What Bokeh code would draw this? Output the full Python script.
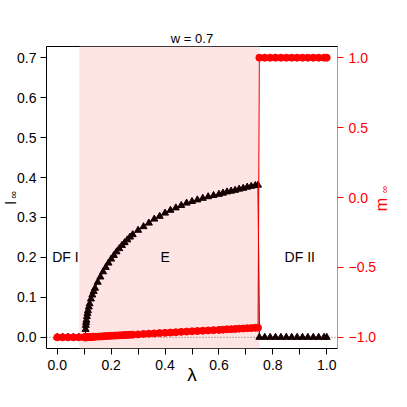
import math
from bokeh.plotting import figure
from bokeh.models import (Range1d, LinearAxis, FixedTicker, CustomJSTickFormatter,
                          BoxAnnotation, Span, Label, Title)
from bokeh.embed import file_html
from bokeh.resources import INLINE

# ---------------- data ----------------
lam = [0.000, 0.020, 0.040, 0.060, 0.080, 0.100,
       0.104, 0.105, 0.106, 0.107, 0.108, 0.110, 0.112, 0.114, 0.117, 0.120,
       0.125, 0.130, 0.135, 0.140, 0.150, 0.160, 0.170, 0.180, 0.190, 0.200,
       0.210, 0.220, 0.230, 0.240, 0.250, 0.260, 0.270, 0.280, 0.300, 0.320,
       0.340, 0.360, 0.380, 0.400, 0.420, 0.440, 0.460, 0.480, 0.500, 0.520,
       0.540, 0.560, 0.580, 0.600, 0.615, 0.630, 0.645, 0.660, 0.675, 0.690,
       0.705, 0.720, 0.735, 0.745,
       0.750, 0.770, 0.790, 0.810, 0.830, 0.850, 0.870, 0.890, 0.910, 0.930,
       0.950, 0.970, 0.990, 1.000]

l_inf = [0.0, 0.0, 0.0, 0.0, 0.0, 0.0,
         0.000, 0.020, 0.030, 0.037, 0.043, 0.052, 0.060, 0.067, 0.076, 0.084,
         0.096, 0.106, 0.115, 0.123, 0.138, 0.151, 0.164, 0.175, 0.186, 0.196,
         0.205, 0.214, 0.222, 0.230, 0.237, 0.244, 0.251, 0.257, 0.268, 0.277,
         0.286, 0.296, 0.303, 0.311, 0.318, 0.324, 0.330, 0.336, 0.340, 0.344,
         0.348, 0.352, 0.355, 0.358, 0.361, 0.364, 0.366, 0.368, 0.371, 0.373,
         0.376, 0.378, 0.380, 0.381,
         0.0, 0.0, 0.0, 0.0, 0.0, 0.0, 0.0, 0.0, 0.0, 0.0,
         0.0, 0.0, 0.0, 0.0]

m_inf = [-1.0, -1.0, -1.0, -1.0, -1.0, -1.0,
         -1.000, -0.999, -0.999, -0.999, -0.999, -0.999, -0.999, -0.998, -0.998, -0.998,
         -0.997, -0.997, -0.996, -0.996, -0.995, -0.994, -0.993, -0.991, -0.990, -0.989,
         -0.988, -0.987, -0.986, -0.985, -0.984, -0.983, -0.982, -0.981, -0.979, -0.976,
         -0.974, -0.972, -0.970, -0.968, -0.966, -0.964, -0.961, -0.959, -0.957, -0.955,
         -0.953, -0.951, -0.949, -0.947, -0.945, -0.943, -0.942, -0.940, -0.938, -0.937,
         -0.935, -0.934, -0.932, -0.931,
         1.0, 1.0, 1.0, 1.0, 1.0, 1.0, 1.0, 1.0, 1.0, 1.0,
         1.0, 1.0, 1.0, 1.0]

region_bounds = [0.082, 0.751]          # shaded "E" region in lambda
region_names = ["DF I", "E", "DF II"]
region_x = [0.03, 0.40, 0.90]
region_y = [0.20, 0.20, 0.20]

x_ticks = [0.0, 0.2, 0.4, 0.6, 0.8, 1.0]
x_minor = [0.1, 0.3, 0.5, 0.7, 0.9]
l_ticks = [0.0, 0.1, 0.2, 0.3, 0.4, 0.5, 0.6, 0.7]
m_ticks = [-1.0, -0.5, 0.0, 0.5, 1.0]

# ---------------- layout ----------------
FONT = "Liberation Sans"
W = H = 391
RED = "#ff0000"
X0, X1, Y0, Y1 = -0.04, 1.04, -0.028, 0.728
FL, FR, FT, FB = 46, 337, 46, 348      # frame edges (px)


def px_to_x(px):
    return X0 + (px - FL) / (FR - FL) * (X1 - X0)


def px_to_y(py):
    return Y1 - (py - FT) / (FB - FT) * (Y1 - Y0)


p = figure(width=W, height=H, output_backend="svg", toolbar_location=None,
           x_range=Range1d(X0, X1), y_range=Range1d(Y0, Y1),
           min_border_left=FL, min_border_right=W - FR,
           min_border_top=FT, min_border_bottom=H - FB)
p.extra_y_ranges = {"m": Range1d(-1.08, 1.08)}
p.xgrid.visible = False
p.ygrid.visible = False
p.outline_line_color = "black"
p.outline_line_width = 1
p.background_fill_color = "white"
p.border_fill_color = "white"
p.title.text = ""
p.title.standoff = 0

fmt1 = CustomJSTickFormatter(code="return tick.toFixed(1);")
fmt_minus = CustomJSTickFormatter(
    code="return (tick < 0 ? '\\u2212' : '') + Math.abs(tick).toFixed(1);")

xa = p.xaxis[0]
xa.ticker = FixedTicker(ticks=x_ticks, minor_ticks=x_minor)
xa.formatter = fmt1
ya = p.yaxis[0]
ya.ticker = FixedTicker(ticks=l_ticks)
ya.formatter = fmt1
for ax in (xa, ya):
    ax.axis_line_color = None
    ax.major_tick_out = 6
    ax.major_tick_in = 0
    ax.minor_tick_out = 6
    ax.minor_tick_in = 0
    ax.major_tick_line_color = "black"
    ax.minor_tick_line_color = "black"
    ax.major_label_text_font = FONT
    ax.major_label_text_font_size = "14px"
    ax.major_label_text_color = "black"
xa.major_label_standoff = 5
ya.major_label_standoff = 4
ya.minor_tick_line_color = None
ya.major_label_orientation = "horizontal"

xa.axis_label = "\u03bb"
xa.axis_label_text_font = FONT
xa.axis_label_text_font_size = "19px"
xa.axis_label_text_font_style = "normal"
xa.axis_label_text_color = "black"
xa.axis_label_standoff = -9

# left-axis label  l_inf  (letter + smaller subscript)
p.add_layout(Title(text="\u221e", align="left", offset=150, vertical_align="bottom",
                   standoff=-8, text_font=FONT, text_font_size="11px",
                   text_font_style="normal", text_color="black"), "left")
p.add_layout(Title(text="l", align="left", offset=144, vertical_align="bottom",
                   standoff=-21, text_font=FONT, text_font_size="15px",
                   text_font_style="normal", text_color="black"), "left")

# right axis for m_inf (ticks and numbers)
ra = LinearAxis(y_range_name="m", ticker=FixedTicker(ticks=m_ticks), formatter=fmt_minus)
ra.axis_line_color = "#f07878"
ra.major_tick_line_color = RED
ra.minor_tick_line_color = None
ra.major_tick_out = 6
ra.major_tick_in = 0
ra.major_label_standoff = 5
ra.major_label_text_font = FONT
ra.major_label_text_font_size = "14px"
ra.major_label_text_color = RED
p.add_layout(ra, "right")

# plot title (placed in the top margin)
p.add_layout(Label(x=px_to_x(191.5), y=px_to_y(38), text="w = 0.7",
                   text_align="center", text_baseline="alphabetic",
                   text_font=FONT, text_font_size="13px", text_color="black"), "above")

# right-axis name m_inf: letter reading upwards + subscript (kept clear of the edge)
p.add_layout(Label(x=px_to_x(381), y=px_to_y(204), text="m", angle=math.pi / 2,
                   text_align="center", text_baseline="alphabetic",
                   text_font=FONT, text_font_size="16px", text_color=RED), "above")
p.add_layout(Label(x=px_to_x(384), y=px_to_y(189), text="\u221e", angle=math.pi / 2,
                   text_align="center", text_baseline="alphabetic",
                   text_font=FONT, text_font_size="10px", text_color=RED), "right")

# shaded region and zero line
p.add_layout(BoxAnnotation(left=region_bounds[0], right=region_bounds[1],
                           fill_color="#ffe4e4", fill_alpha=1.0, line_color=None,
                           level="underlay"))
p.add_layout(Span(location=0, dimension="width", line_color="#666666",
                  line_dash="1 2", line_width=1, level="underlay"))

# series
p.line(lam, l_inf, line_color="black", line_width=1)
p.scatter(lam, l_inf, marker="triangle", size=7, fill_color="#140000", line_color="#140000")
p.line(lam, m_inf, y_range_name="m", line_color=RED, line_width=1)
p.scatter(lam, m_inf, y_range_name="m", marker="circle", size=7,
          fill_color=RED, line_color=RED)

# region labels
for name, rx, ry in zip(region_names, region_x, region_y):
    p.add_layout(Label(x=rx, y=ry, text=name, text_align="center", text_baseline="middle",
                       text_font=FONT, text_font_size="14px", text_color="black"))

open("out.html", "w").write(file_html(p, INLINE))
